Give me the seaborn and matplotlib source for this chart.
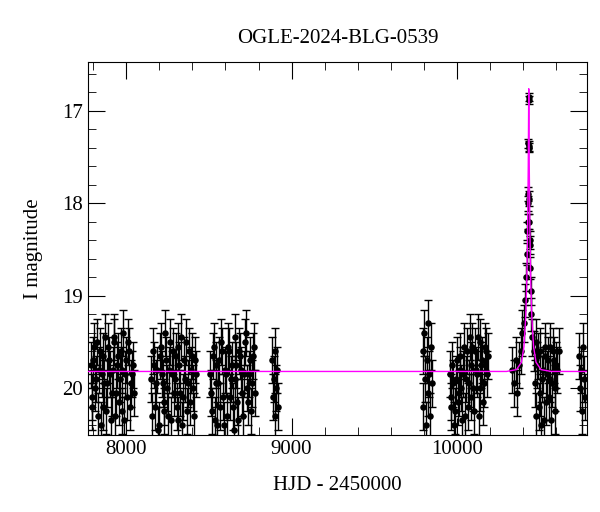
import matplotlib
matplotlib.use("Agg")
import matplotlib.pyplot as plt
from matplotlib.ticker import MultipleLocator
import seaborn as sns
import pandas as pd

title = "OGLE-2024-BLG-0539"
xlabel = "HJD - 2450000"
ylabel = "I magnitude"

t1 = [7785,7796,7807,7818,7829,7840,7851,7862,7873,7884,7895,7906,7917,7928,7939,7950,7961,7972,7983,7994,8005,8016,8027,8040]
m1 = [19.75,20.10,19.55,19.90,20.30,19.60,19.85,20.20,19.45,19.95,19.70,20.35,19.80,19.50,20.05,19.65,19.90,20.25,19.40,19.85,20.10,19.60,19.95,19.75]
t1b = [7790,7801,7812,7824,7834,7846,7857,7867,7879,7889,7901,7911,7923,7933,7945,7955,7967,7977,7989,7999,8011,8022,8034,8046]
m1b = [20.20,19.70,20.00,19.50,19.80,20.40,19.65,19.95,20.25,19.55,19.85,20.05,19.45,20.30,19.75,20.15,19.60,19.80,20.35,19.70,19.50,20.20,19.85,20.05]
t2 = [8152,8163,8175,8186,8197,8209,8220,8231,8243,8254,8265,8277,8288,8299,8311,8322,8333,8345,8356,8367,8379,8390,8401,8415]
m2 = [19.90,19.60,20.20,19.80,20.40,19.55,19.95,20.15,19.70,20.30,19.50,19.85,20.05,19.65,20.35,19.75,19.45,20.10,19.90,20.25,19.60,19.80,20.00,19.70]
t2b = [8157,8169,8180,8192,8203,8214,8226,8237,8248,8260,8271,8282,8294,8305,8316,8328,8339,8350,8362,8373,8384,8396,8407,8419]
m2b = [20.30,19.75,19.95,20.45,19.65,19.85,20.25,19.40,20.00,19.80,20.35,19.60,19.90,20.20,19.55,20.05,20.40,19.70,19.50,19.95,20.15,19.65,20.30,19.85]
t3 = [8505,8517,8528,8540,8551,8563,8574,8586,8597,8609,8620,8632,8643,8655,8666,8678,8689,8701,8712,8724,8735,8747,8758,8772]
m3 = [19.85,20.25,19.55,19.95,20.40,19.70,19.50,20.10,19.80,20.30,19.60,19.90,20.20,19.45,19.75,20.35,19.65,20.05,19.85,19.40,20.15,19.70,19.95,19.55]
t3b = [8511,8522,8534,8545,8557,8568,8580,8591,8603,8614,8626,8637,8649,8660,8672,8683,8695,8706,8718,8729,8741,8752,8764,8778]
m3b = [20.05,19.65,20.35,19.75,19.95,20.20,19.60,20.40,19.85,19.55,20.10,19.75,20.45,19.90,20.15,19.60,19.80,20.30,19.50,20.00,19.85,20.25,19.65,20.05]
t4 = [8882,8887,8892,8897,8902,8907,8912,8917]
m4 = [19.70,20.10,19.90,20.30,19.60,20.00,19.80,20.20]
t5 = [9792,9797,9802,9807,9812,9817,9822,9827,9832,9837,9842,9847]
m5 = [19.60,20.20,19.40,19.90,20.40,19.70,19.30,20.05,19.85,20.30,19.55,19.95]
t6 = [9955,9966,9977,9988,9999,10010,10021,10032,10043,10054,10065,10076,10087,10098,10109,10120,10131,10142,10153,10164,10175,10190]
m6 = [19.85,20.10,19.95,20.25,19.70,20.05,19.80,20.35,19.55,19.90,20.20,19.45,19.75,20.00,19.60,19.85,20.30,19.50,19.70,19.95,19.60,19.65]
t6b = [9961,9972,9983,9994,10005,10016,10027,10038,10049,10060,10071,10082,10093,10104,10115,10126,10137,10148,10159,10170,10182]
m6b = [20.20,19.75,20.40,19.90,20.15,19.65,20.00,19.85,20.30,19.60,19.95,20.10,19.55,20.25,19.80,19.45,20.00,19.75,20.15,19.55,19.85]
t7 = [10335,10345,10355,10365,10375,10385,10395,10475,10485,10495,10505,10515,10525,10535,10545,10555,10565,10575,10585,10595,10605,10615]
m7 = [19.80,19.95,19.70,20.05,19.75,19.60,19.40,19.50,19.75,20.20,19.60,19.90,20.35,19.65,19.85,20.10,19.55,19.95,19.70,20.25,19.80,19.60]
t7b = [10470,10480,10490,10500,10510,10520,10530,10540,10550,10560,10570,10580,10590,10600]
m7b = [19.95,20.30,19.65,20.05,20.40,19.80,19.55,20.15,19.70,19.90,20.35,19.60,20.00,19.75]
t8 = [10735,10742,10749,10756,10763,10770,10777]
m8 = [19.65,20.00,19.80,20.25,19.55,19.90,20.10]
base_err = 0.25

tp = [10405,10412,10418,10422,10426,10428,10430,10431,10432,10433,10434,10435,10436,10437,10438,10439,10440,10442,10446,10450,10456,10463]
mp = [19.3,19.05,18.8,18.55,18.3,18.0,17.9,18.2,17.35,17.38,16.88,16.85,17.4,17.95,18.2,18.4,18.45,18.7,18.95,19.2,19.45,19.6]
ep = [0.2,0.18,0.15,0.12,0.1,0.08,0.08,0.08,0.05,0.05,0.04,0.04,0.05,0.08,0.08,0.1,0.1,0.12,0.15,0.18,0.2,0.22]

tm = [7770,10300,10360,10390,10405,10415,10422,10427,10431,10434,10437,10441,10446,10453,10463,10478,10508,10570,10785]
mm = [19.82,19.82,19.80,19.72,19.55,19.25,18.85,18.3,17.6,16.76,17.6,18.3,18.85,19.25,19.55,19.72,19.80,19.82,19.82]

tb = t1+t1b+t2+t2b+t3+t3b+t4+t5+t6+t6b+t7+t7b+t8
mb = m1+m1b+m2+m2b+m3+m3b+m4+m5+m6+m6b+m7+m7b+m8
df = pd.DataFrame({"t": tb + tp, "m": mb + mp, "e": [base_err]*len(tb) + ep})
model = pd.DataFrame({"t": tm, "m": mm})

plt.rcParams["font.family"] = "Liberation Serif"
fig = plt.figure(figsize=(6, 5.12), dpi=100)
ax = fig.add_axes([0.147, 0.150, 0.831, 0.729])
ax.errorbar(df["t"], df["m"], yerr=df["e"], fmt="none", ecolor="black", elinewidth=1.0, capsize=3, capthick=1.0)
sns.scatterplot(data=df, x="t", y="m", ax=ax, color="black", s=22, edgecolor="black", linewidth=0, zorder=3)
sns.lineplot(data=model, x="t", y="m", ax=ax, color="#ff00ff", linewidth=1.0, zorder=4)
ax.set_xlim(7770, 10785)
ax.set_ylim(20.51, 16.47)
ax.xaxis.set_major_locator(MultipleLocator(1000))
ax.xaxis.set_minor_locator(MultipleLocator(200))
ax.yaxis.set_major_locator(MultipleLocator(1))
ax.yaxis.set_minor_locator(MultipleLocator(0.2))
ax.tick_params(which="both", direction="in", top=True, right=True, labelsize=15)
ax.tick_params(which="major", length=12)
ax.tick_params(which="minor", length=6)
ax.set_xlabel(xlabel, fontsize=15, labelpad=12)
ax.set_ylabel(ylabel, fontsize=15, labelpad=14)
ax.set_title(title, fontsize=15, pad=14)
fig.savefig("out.png", dpi=100)
